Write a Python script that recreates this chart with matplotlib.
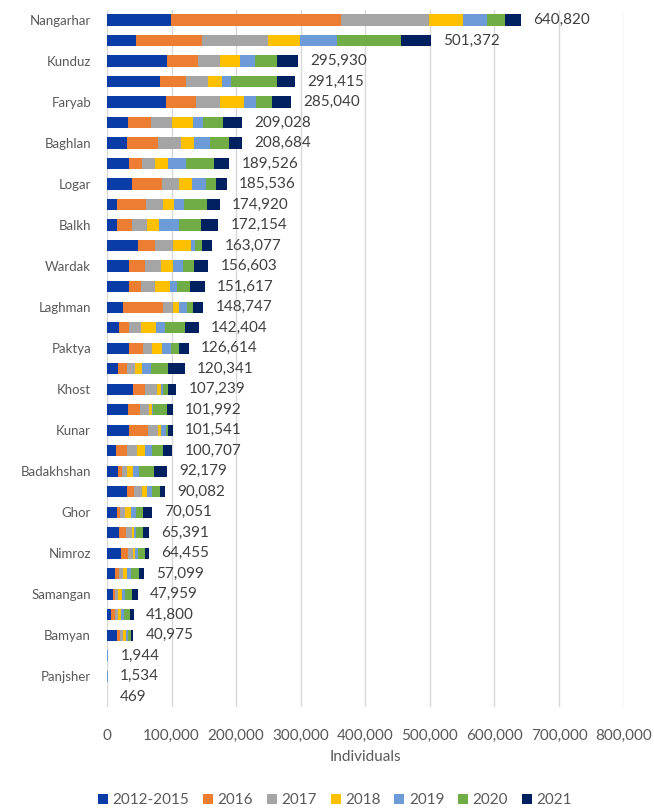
import matplotlib
matplotlib.use("Agg")
import matplotlib.pyplot as plt
import numpy as np

plt.rcParams["font.family"] = ["Lato", "DejaVu Sans"]

provinces = [
    "Nangarhar", "Kabul", "Kunduz", "Herat", "Faryab", "Kandahar", "Baghlan",
    "Takhar", "Logar", "Helmand", "Balkh", "Jawzjan", "Wardak", "Ghazni",
    "Laghman", "Paktika", "Paktya", "Badghis", "Khost", "Sar-e-Pul", "Kunar",
    "Parwan", "Badakhshan", "Kapisa", "Ghor", "Farah", "Nimroz", "Zabul",
    "Samangan", "Uruzgan", "Bamyan", "Daykundi", "Panjsher", "Nuristan",
]
# only every other province name is printed on the axis
shown = [p if i % 2 == 0 else "" for i, p in enumerate(provinces)]

periods = ["2012-2015", "2016", "2017", "2018", "2019", "2020", "2021"]

v2012_2015 = [99000, 44900, 92400, 82000, 91300, 33000, 31500, 33500, 38200, 16000,
              16000, 48500, 34100, 34600, 24300, 18600, 34600, 17500, 39700, 33000,
              34100, 13400, 16500, 30500, 15000, 18600, 21700, 12400, 8800, 6000,
              15000, 0, 0, 0]
v2016 = [263000, 101700, 49000, 40800, 46500, 35100, 48000, 20200, 46400, 44400,
         22200, 25800, 24700, 18000, 61900, 15500, 21600, 13000, 19100, 18100,
         28900, 18100, 6200, 11800, 5100, 10800, 10300, 6200, 3600, 6000,
         5100, 0, 0, 0]
v2017 = [137000, 102100, 33500, 33000, 37100, 32000, 35100, 21100, 26900, 25800,
         23200, 28400, 24800, 22200, 15500, 18500, 14000, 12800, 19100, 13900,
         15500, 14400, 8800, 12400, 7800, 8800, 8800, 5700, 5100, 5000,
         4200, 0, 0, 0]
v2018 = [51600, 50100, 31000, 21700, 36700, 32500, 20600, 19600, 19600, 17500,
         19100, 26800, 18100, 22700, 10200, 22700, 15500, 11400, 5200, 5200,
         5600, 12900, 9300, 6700, 8800, 4100, 2500, 6200, 5200, 5000,
         4600, 0, 0, 0]
v2019 = [38100, 57800, 23700, 15000, 19100, 16500, 23700, 27400, 21600, 16000,
         31000, 6700, 16500, 10400, 11500, 15000, 12800, 13400, 4100, 1500,
         6700, 10300, 9300, 7700, 8200, 2600, 4200, 6200, 5200, 5000,
         3100, 1200, 1000, 469]
v2020 = [27300, 98000, 33600, 70700, 24700, 30000, 30000, 44400, 15500, 34600,
         33500, 11400, 16500, 20600, 10200, 29900, 12400, 25800, 7700, 20700,
         4100, 17100, 23200, 12900, 11300, 11300, 11300, 13400, 10300, 9000,
         4700, 744, 534, 0]
v2021 = [24820, 46772, 32730, 28215, 29640, 29928, 19784, 23326, 17336, 20620,
         27154, 15477, 21903, 23117, 15147, 22204, 15714, 26441, 12339, 9592,
         6641, 14507, 18879, 8082, 13851, 9191, 5655, 6999, 9759, 5800,
         4275, 0, 0, 0]

colors = ["#0a3ca8", "#ed7d31", "#a5a5a5", "#ffc000", "#6d9bd8", "#70ad47", "#002060"]

series = [v2012_2015, v2016, v2017, v2018, v2019, v2020, v2021]

fig = plt.figure(figsize=(6.54, 8.10), dpi=100)
ax = fig.add_axes([0.1636, 0.127, 0.79, 0.861])

y = np.arange(len(provinces))
left = np.zeros(len(provinces))
for vals, col, lab in zip(series, colors, periods):
    vals = np.array(vals, dtype=float)
    ax.barh(y, vals, left=left, height=0.55, color=col, label=lab, zorder=3)
    left += vals

for yi, total in zip(y, left):
    ax.text(total + 19000, yi, f"{int(total):,}", va="center", ha="left",
            fontsize=11, color="#404040")

ticks = np.arange(0, 800001, 100000)
ax.set_xlim(0, 800000)
ax.set_ylim(len(provinces) - 0.5, -0.5)
ax.set_xticks(ticks)
ax.set_xticklabels([f"{int(v):,}" for v in ticks])
ax.set_yticks(y)
ax.set_yticklabels(shown)
ax.tick_params(axis="both", length=0, labelcolor="#595959")
ax.tick_params(axis="x", pad=16, labelsize=11)
ax.tick_params(axis="y", pad=11.5, labelsize=9.5)
ax.grid(axis="x", color="#d9d9d9", linewidth=1, zorder=0)
for s in ax.spines.values():
    s.set_visible(False)
ax.set_xlabel("Individuals", fontsize=11, color="#595959", labelpad=5)

fig.legend(*ax.get_legend_handles_labels(), loc="center",
           bbox_to_anchor=(335 / 654, 1 - 800 / 810), ncol=7,
           frameon=False, fontsize=11, handlelength=0.65, handleheight=0.65,
           handletextpad=0.3, columnspacing=0.9, labelcolor="#595959")

fig.savefig("out.png", dpi=100)
